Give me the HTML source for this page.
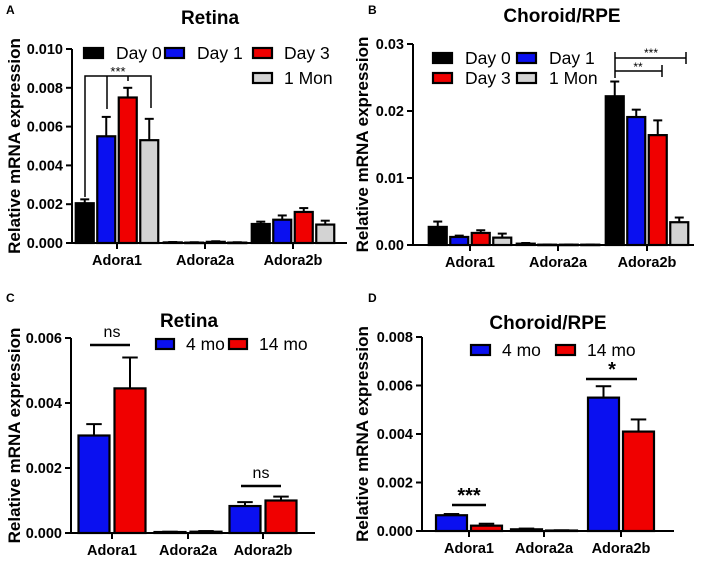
<!DOCTYPE html>
<html><head><meta charset="utf-8"><style>
html,body{margin:0;padding:0;background:#fff}
svg{display:block;font-family:"Liberation Sans",Arial,sans-serif}
</style></head><body>
<svg id="fig" width="708" height="561" viewBox="0 0 708 561"></svg>
<script>
const genes = ["Adora1","Adora2a","Adora2b"];
// Panel A (Retina, time course)
const aSeries = ["Day 0","Day 1","Day 3","1 Mon"];
const aDay0 = [0.00205,0.00003,0.00098];
const aDay0Err = [0.0002,0.00002,0.00012];
const aDay1 = [0.0055,0.00002,0.0012];
const aDay1Err = [0.001,0.00002,0.00022];
const aDay3 = [0.0075,0.00006,0.0016];
const aDay3Err = [0.0005,0.00003,0.0002];
const aMon = [0.0053,0.00002,0.00095];
const aMonErr = [0.0011,0.00002,0.0002];
const aTicks = ["0.000","0.002","0.004","0.006","0.008","0.010"];
// Panel B (Choroid/RPE, time course)
const bDay0 = [0.0027,0.0002,0.0222];
const bDay0Err = [0.0008,0.0001,0.0022];
const bDay1 = [0.0012,0.00005,0.0191];
const bDay1Err = [0.0002,0.00002,0.0011];
const bDay3 = [0.0018,0.00005,0.0164];
const bDay3Err = [0.0004,0.00002,0.0022];
const bMon = [0.0011,0.00005,0.0034];
const bMonErr = [0.0006,0.00002,0.0007];
const bTicks = ["0.00","0.01","0.02","0.03"];
// Panel C (Retina, age)
const ageSeries = ["4 mo","14 mo"];
const c4 = [0.003,0.00003,0.00083];
const c4Err = [0.00035,0.00001,0.00012];
const c14 = [0.00445,0.00004,0.001];
const c14Err = [0.00095,0.00002,0.00012];
const cTicks = ["0.000","0.002","0.004","0.006"];
// Panel D (Choroid/RPE, age)
const d4 = [0.00065,0.00007,0.0055];
const d4Err = [0.00005,0.00003,0.00047];
const d14 = [0.00022,0.00002,0.0041];
const d14Err = [0.00008,0.00001,0.0005];
const dTicks = ["0.000","0.002","0.004","0.006","0.008"];

const NS="http://www.w3.org/2000/svg";
const svg=document.getElementById('fig');
function mk(tag,attrs,parent,text){const e=document.createElementNS(NS,tag);for(const k in attrs)e.setAttribute(k,attrs[k]);if(text!==undefined)e.textContent=text;(parent||svg).appendChild(e);return e;}

function panel(p){
  const g=mk('g',{});
  
  
  const max=parseFloat(p.ticks[p.ticks.length-1]);
  const y=v=>p.y0-(v/max)*(p.y0-p.yTop);
  p.series.forEach((s,si)=>{
    genes.forEach((gn,gi)=>{
      const cx=p.centers[gi]+(si-(p.series.length-1)/2)*p.step;
      const v=s.vals[gi], e=s.errs[gi];
      const top=y(v);
      const ey=y(v+e);
      const el=mk('line',{x1:cx,x2:cx,y1:top,y2:ey,stroke:'#000','stroke-width':2},g);
      
      
      const cap=mk('line',{x1:cx-p.bw/4,x2:cx+p.bw/4,y1:ey,y2:ey,stroke:'#000','stroke-width':2},g);
      
      
      const r=mk('rect',{x:cx-p.bw/2,y:top,width:p.bw,height:Math.max(p.y0-top,0.5),fill:s.color,stroke:'#000','stroke-width':2.2},g);
      
      
    });
  });
  const ax=mk('path',{d:`M${p.x0},${p.yTop}V${p.y0}H${p.xEnd}`,fill:'none',stroke:'#000','stroke-width':2},g);
  
  
  p.ticks.forEach(t=>{
    const ty=y(parseFloat(t));
    mk('line',{x1:p.x0-6,x2:p.x0,y1:ty,y2:ty,stroke:'#000','stroke-width':2},g);
    const tl=mk('text',{x:p.x0-9,y:ty+5,'text-anchor':'end','font-size':14.5,'font-weight':'bold'},g,t);
    
    
  });
  genes.forEach((gn,gi)=>{
    mk('line',{x1:p.centers[gi],x2:p.centers[gi],y1:p.y0,y2:p.y0+6,stroke:'#000','stroke-width':2},g);
    const xl=mk('text',{x:p.centers[gi],y:p.y0+22,'text-anchor':'middle','font-size':14.5,'font-weight':'bold'},g,gn);
    
    
  });
  const ym=(p.y0+p.yTop)/2;
  const yt=mk('text',{x:0,y:0,transform:`translate(${p.titleX},${ym}) rotate(-90)`,'text-anchor':'middle','font-size':17,'font-weight':'bold'},g,'Relative mRNA expression');
  
  
  const tt=mk('text',{x:p.tx,y:p.ty,'text-anchor':'middle','font-size':19,'font-weight':'bold'},g,p.title);
  
  
  const pl=mk('text',{x:p.lx,y:p.ly,'font-size':12,'font-weight':'bold'},g,p.letter);
  
  
  p.legend.forEach((L,i)=>{
    const s=p.series[i];
    const lr=mk('rect',{x:L[0],y:L[1]-5,width:p.lw,height:10,fill:s.color,stroke:'#000','stroke-width':2.2},g);
    
    
    const lt=mk('text',{x:L[2],y:L[1]+6,'font-size':17.5},g,s.label);
    
    
  });
  (p.marks||[]).forEach(m=>{
    const sp=mk('path',{d:m.d,fill:'none',stroke:'#000','stroke-width':m.w||2},g);
    
    
    const st=mk('text',{x:m.tx,y:m.ty,'text-anchor':'middle','font-size':m.fs,'font-weight':m.fw||'normal'},g,m.t);
    
    
  });
}
const black='#000',blue='#0a10f0',red='#f00000',gray='#d3d3d3';
panel({name:'panel-a',letter:'A',lx:6,ly:14,title:'Retina',tx:210,ty:24,x0:72,xEnd:347,y0:243,yTop:49,titleX:20,
  ticks:aTicks,centers:[117,205,293],step:21.5,bw:18,lw:19,
  series:[{label:aSeries[0],color:black,vals:aDay0,errs:aDay0Err},{label:aSeries[1],color:blue,vals:aDay1,errs:aDay1Err},{label:aSeries[2],color:red,vals:aDay3,errs:aDay3Err},{label:aSeries[3],color:gray,vals:aMon,errs:aMonErr}],
  legend:[[84,53,116],[165,53,197],[253,53,284],[253,78,284]],
  marks:[{d:'M85,197V76H151V108M107,76V109M128,76V81',tx:118,ty:76,t:'***',fs:13,w:1.5}]});
panel({name:'panel-b',letter:'B',lx:368,ly:14,title:'Choroid/RPE',tx:562,ty:22,x0:413,xEnd:694,y0:245,yTop:44,titleX:368,
  ticks:bTicks,centers:[470,558,647],step:21.5,bw:18,lw:19,
  series:[{label:aSeries[0],color:black,vals:bDay0,errs:bDay0Err},{label:aSeries[1],color:blue,vals:bDay1,errs:bDay1Err},{label:aSeries[2],color:red,vals:bDay3,errs:bDay3Err},{label:aSeries[3],color:gray,vals:bMon,errs:bMonErr}],
  legend:[[433,58,465],[517,58,549],[433,78,465],[517,78,549]],
  marks:[{d:'M615,52V78M615,58H686M686,52V64',tx:651,ty:57,t:'***',fs:12,w:1.5},{d:'M615,71H662M662,65V77',tx:638,ty:71,t:'**',fs:12,w:1.5}]});
panel({name:'panel-c',letter:'C',lx:6,ly:302,title:'Retina',tx:189,ty:327,x0:71,xEnd:315,y0:533,yTop:338,titleX:20,
  ticks:cTicks,centers:[112,188,263],step:36,bw:31,lw:18,
  series:[{label:ageSeries[0],color:blue,vals:c4,errs:c4Err},{label:ageSeries[1],color:red,vals:c14,errs:c14Err}],
  legend:[[156,344,186],[229,344,259]],
  marks:[{d:'M90,345H130',tx:112,ty:337,t:'ns',fs:16,w:2.5},{d:'M241,486H281',tx:261,ty:478,t:'ns',fs:16,w:2.5}]});
panel({name:'panel-d',letter:'D',lx:368,ly:302,title:'Choroid/RPE',tx:548,ty:329,x0:422,xEnd:674,y0:531,yTop:337,titleX:368,
  ticks:dTicks,centers:[469,544,621],step:35,bw:31,lw:19,
  series:[{label:ageSeries[0],color:blue,vals:d4,errs:d4Err},{label:ageSeries[1],color:red,vals:d14,errs:d14Err}],
  legend:[[471,350,502],[556,350,587]],
  marks:[{d:'M452,505H486',tx:469,ty:502,t:'***',fs:20,fw:'bold',w:2.5},{d:'M586,379H637',tx:612,ty:376,t:'*',fs:20,fw:'bold',w:2.5}]});
</script>
</body></html>
